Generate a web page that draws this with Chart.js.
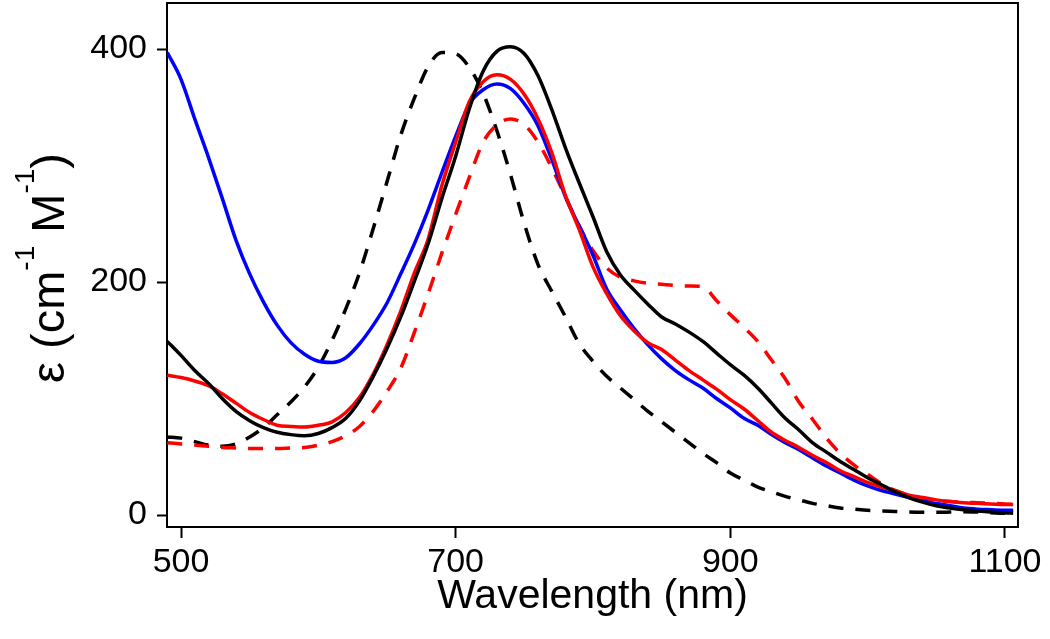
<!DOCTYPE html>
<html>
<head>
<meta charset="utf-8">
<script src="https://cdn.jsdelivr.net/npm/chart.js@4/dist/chart.umd.min.js"></script>
<style>
  html, body { margin: 0; padding: 0; background: #fff; }
  #wrap { width: 1050px; height: 639px; }
</style>
</head>
<body>
<div id="wrap"><canvas id="spectre" width="1050" height="639"></canvas></div>
<script>
// longueurs d'onde communes (nm)
const wavelengths = [490, 500, 510, 520, 530, 540, 550, 560, 570, 580, 590, 600, 610, 620, 630, 640, 650, 660, 670, 680,
  690, 700, 710, 720, 730, 740, 750, 760, 770, 780, 790, 800, 810, 820, 830, 840, 850, 860, 870, 880,
  890, 900, 910, 920, 930, 940, 950, 960, 970, 980, 990, 1000, 1010, 1020, 1030, 1040, 1050, 1060, 1070, 1080,
  1090, 1100, 1106];

// spectres (epsilon, cm-1 M-1)
const blueSolid = [397, 374, 340, 307, 272, 236, 207, 183, 163, 148, 138, 132, 131, 135, 147, 163, 182, 207, 233, 262,
  294, 325, 353, 365, 370, 366, 353, 334, 305, 273, 248, 223, 194, 176, 160, 146, 134, 124, 116, 109,
  100, 92, 83, 77, 69, 62, 56, 49, 42, 36, 30, 25, 21, 18, 15, 12, 10, 8, 6, 5,
  4.5, 4, 4];
const blackSolid = [149, 137, 124, 113, 100, 89, 81, 75, 71, 69, 68, 70, 75, 83, 98, 119, 143, 170, 201, 233,
  272, 308, 349, 381, 398, 402, 396, 377, 348, 315, 285, 256, 226, 206, 193, 181, 170, 164, 157, 149,
  139, 129, 120, 109, 96, 83, 73, 62, 54, 46, 39, 32, 26, 20, 15, 11, 8, 6, 4.5, 3.5,
  2.5, 2, 1.5];
const redSolid = [120, 118, 115, 111, 104, 96, 88, 82, 77, 76, 75.5, 77, 80, 88, 101, 121, 146, 175, 208, 237,
  283, 320, 355, 372, 378, 374, 361, 340, 311, 274, 245, 213, 190, 171, 158, 148, 142, 133, 124, 116,
  108, 99, 91, 81, 71, 64, 58, 51, 45, 38, 33, 28, 24, 21, 17, 15, 13, 11.5, 10.5, 10,
  9.5, 9, 9];
const blackDashed = [67, 66, 63, 60, 59, 61, 67, 75, 86, 97, 110, 127, 150, 177, 208, 246, 286, 326, 358, 385,
  397, 396, 384, 362, 330, 292, 250, 215, 192, 170, 147, 132, 119, 109, 99, 89, 80, 71, 62, 53,
  45, 36, 30, 24, 20, 16, 13, 10, 8, 6, 5, 4, 3.4, 3, 2.5, 2.3, 2.3, 2.5, 2.8, 2.5,
  2, 1.5, 1.5];
const redDashed = [62, 61, 60, 59, 58, 57.5, 57, 57, 57, 57.5, 58, 60, 63, 68, 76, 89, 106, 126, 157, 190,
  225, 258, 290, 320, 335, 340, 335, 320, 298, 273, 248, 227, 212, 204, 201, 199, 198, 197, 196.5, 196,
  184, 172, 161, 149, 133, 117, 97, 82, 66, 53, 43, 35, 27, 21, 17, 14, 12.5, 11.5, 11, 10.5,
  10, 9.5, 9];

// graduations
const xTicks = [500, 700, 900, 1100];
const yTicks = [0, 200, 400];

const police = '"Liberation Sans", Arial, sans-serif';

function points(values) {
  return values.map((v, i) => ({ x: wavelengths[i], y: v }));
}

function serie(values, color, dash) {
  return {
    data: points(values),
    borderColor: color,
    borderWidth: 3.5,
    borderDash: dash || [],
    pointRadius: 0,
    fill: false,
    cubicInterpolationMode: 'monotone'
  };
}

// pas de marge automatique pour les etiquettes : le cadre est fixe par layout.padding
function sansMarge(axis) {
  axis.paddingTop = 0;
  axis.paddingBottom = 0;
  axis.paddingLeft = 0;
  axis.paddingRight = 0;
}

// cadre haut/droite + titre de l'axe y avec exposants
const cadreEtTitre = {
  id: 'cadreEtTitre',
  afterDraw(chart) {
    const { ctx, chartArea } = chart;
    ctx.save();
    ctx.strokeStyle = '#000';
    ctx.lineWidth = 2;
    ctx.beginPath();
    ctx.moveTo(chartArea.left, chartArea.top);
    ctx.lineTo(chartArea.right, chartArea.top);
    ctx.lineTo(chartArea.right, chartArea.bottom);
    ctx.stroke();

    // titre vertical
    const morceaux = [
      { t: 'ε (cm', sup: false },
      { t: '-1', sup: true },
      { t: ' M', sup: false },
      { t: '-1', sup: true },
      { t: ')', sup: false }
    ];
    const grand = 'normal 47px ' + police;
    const petit = 'normal 28px ' + police;
    let total = 0;
    morceaux.forEach(m => {
      ctx.font = m.sup ? petit : grand;
      m.w = ctx.measureText(m.t).width;
      total += m.w;
    });
    const cy = (chartArea.top + chartArea.bottom) / 2;
    ctx.translate(64, cy + 3);
    ctx.rotate(-Math.PI / 2);
    ctx.fillStyle = '#000';
    ctx.textBaseline = 'alphabetic';
    ctx.textAlign = 'left';
    let x = -total / 2;
    morceaux.forEach(m => {
      ctx.font = m.sup ? petit : grand;
      ctx.fillText(m.t, x, m.sup ? -30 : 0);
      x += m.w;
    });
    ctx.restore();
  }
};

new Chart(document.getElementById('spectre'), {
  type: 'line',
  data: {
    datasets: [
      serie(blackSolid, '#000000'),
      serie(redSolid, '#ff0000'),
      serie(blueSolid, '#0000ff'),
      serie(redDashed, '#ff0000', [15, 12]),
      serie(blackDashed, '#000000', [15, 12])
    ]
  },
  options: {
    responsive: false,
    animation: false,
    layout: { padding: { left: 90, top: 3, right: 32, bottom: 0 } },
    plugins: {
      legend: { display: false },
      tooltip: { enabled: false }
    },
    scales: {
      x: {
        type: 'linear',
        min: 489.8,
        max: 1109.5,
        afterBuildTicks: axis => { axis.ticks = xTicks.map(v => ({ value: v })); },
        afterFit: axis => { axis.height = 112; sansMarge(axis); },
        grid: { display: true, drawOnChartArea: false, tickLength: 11, tickWidth: 2, tickColor: '#000' },
        border: { display: true, color: '#000', width: 2 },
        ticks: {
          color: '#000', padding: 4, maxRotation: 0,
          font: { family: police, size: 34 },
          callback: v => String(v)
        },
        title: {
          display: true,
          text: 'Wavelength (nm)',
          color: '#000',
          font: { family: police, size: 41, lineHeight: 1 },
          padding: { top: 0, bottom: 22 }
        }
      },
      y: {
        type: 'linear',
        min: -10.3,
        max: 439.5,
        afterBuildTicks: axis => { axis.ticks = yTicks.map(v => ({ value: v })); },
        afterFit: axis => { axis.width = 77; sansMarge(axis); },
        grid: { display: true, drawOnChartArea: false, tickLength: 10, tickWidth: 2, tickColor: '#000' },
        border: { display: true, color: '#000', width: 2 },
        ticks: {
          color: '#000', padding: 10,
          font: { family: police, size: 34 },
          callback: v => String(v)
        }
      }
    }
  },
  plugins: [cadreEtTitre]
});
</script>
</body>
</html>
